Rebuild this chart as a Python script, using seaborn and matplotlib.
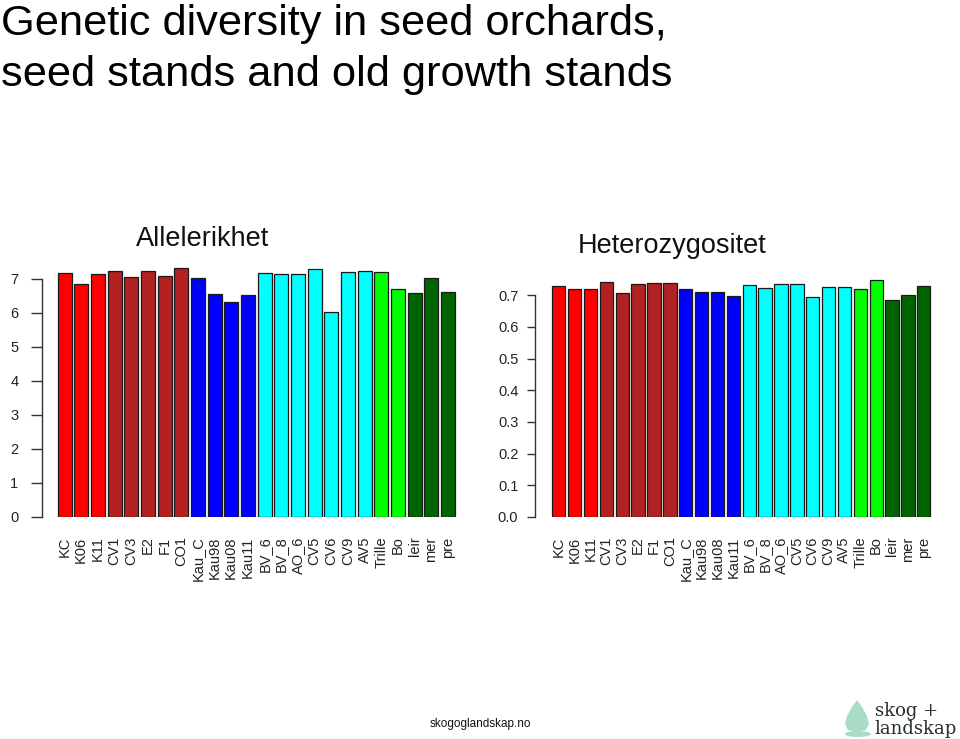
import matplotlib
matplotlib.use("Agg")
import matplotlib.pyplot as plt
import seaborn as sns
from matplotlib.patches import Polygon, Ellipse

# ---------------- data ----------------
populations = ["KC", "K06", "K11", "CV1", "CV3", "E2", "F1", "CO1",
               "Kau_C", "Kau98", "Kau08", "Kau11",
               "BV_6", "BV_8", "AO_6", "CV5", "CV6", "CV9", "AV5",
               "Trille", "Bo", "leir", "mer", "pre"]
allelic_richness = [7.18, 6.85, 7.15, 7.25, 7.06, 7.25, 7.10, 7.33,
                    7.03, 6.57, 6.32, 6.54,
                    7.18, 7.15, 7.15, 7.30, 6.04, 7.22, 7.25,
                    7.22, 6.70, 6.60, 7.03, 6.63]
heterozygosity = [0.728, 0.719, 0.719, 0.743, 0.707, 0.735, 0.738, 0.738,
                  0.719, 0.711, 0.711, 0.698,
                  0.732, 0.722, 0.735, 0.735, 0.696, 0.725, 0.725,
                  0.719, 0.749, 0.686, 0.702, 0.728]
bar_colors = (["#FF0000"] * 3 + ["#B22222"] * 5 + ["#0000FF"] * 4 +
              ["#00FFFF"] * 7 + ["#00FF00"] * 2 + ["#006400"] * 3)
left_yticks = [0, 1, 2, 3, 4, 5, 6, 7]
right_yticks = [0.0, 0.1, 0.2, 0.3, 0.4, 0.5, 0.6, 0.7]
title_lines = ["Genetic diversity in seed orchards,",
               "seed stands and old growth stands"]
panel_titles = ["Allelerikhet", "Heterozygositet"]

# ---------------- style ----------------
sns.set_style("white")
plt.rcParams["font.family"] = ["Liberation Sans", "DejaVu Sans"]

W, H = 960, 739
fig = plt.figure(figsize=(W / 100, H / 100), dpi=100)


def px_axes(left, bottom_px, width, height):
    return fig.add_axes([left / W, (H - bottom_px) / H, width / W, height / H])


def draw_panel(ax, values, yticks, ylim, xlim, ticklen, labelpad, fmt):
    sns.barplot(x=populations, y=values, hue=populations,
                palette=bar_colors, legend=False, width=0.84,
                edgecolor="#1a1a1a", linewidth=0.9, saturation=1,
                ax=ax)
    ax.set_xlim(*xlim)
    ax.set_ylim(*ylim)
    ax.set_xlabel("")
    ax.set_ylabel("")
    for s in ["top", "right", "bottom"]:
        ax.spines[s].set_visible(False)
    ax.spines["left"].set_bounds(yticks[0], yticks[-1])
    ax.spines["left"].set_color("#333333")
    ax.spines["left"].set_linewidth(1.0)
    ax.set_yticks(yticks)
    ax.set_yticklabels([fmt(v) for v in yticks])
    ax.tick_params(axis="y", which="major", direction="out", length=ticklen,
                   width=1.0, color="#333333", pad=labelpad,
                   labelsize=10.5, labelcolor="#222222", left=True)
    ax.tick_params(axis="x", length=0, pad=14, labelsize=10.5,
                   labelcolor="#222222", labelrotation=90)
    for lab in ax.get_xticklabels():
        lab.set_verticalalignment("top")
    ax.patch.set_alpha(0)


# left panel: axis line at x=42 px, zero at y=517 px
unit_l = 16.67
xlim_l = (-1.35, 24.0)
ax1 = px_axes(42, 517, (xlim_l[1] - xlim_l[0]) * unit_l, 7.5 * 34.0)
draw_panel(ax1, allelic_richness, left_yticks, (0, 7.5), xlim_l,
           8, 9, lambda v: f"{v:d}")

# right panel: axis line at x=535 px, zero at y=517 px
unit_r = 15.87
xlim_r = (-1.5, 24.0)
ax2 = px_axes(535, 517, (xlim_r[1] - xlim_r[0]) * unit_r, 0.78 * 316.7)
draw_panel(ax2, heterozygosity, right_yticks, (0, 0.78), xlim_r,
           6, 6, lambda v: f"{v:.1f}")

# panel titles
fig.text(203 / W, 1 - 246 / H, panel_titles[0], ha="center", va="baseline",
         fontsize=19.5, color="#111111")
fig.text(672 / W, 1 - 253 / H, panel_titles[1], ha="center", va="baseline",
         fontsize=19.5, color="#111111")

# main title
for line, base in zip(title_lines, [35, 86]):
    fig.text(1 / W, 1 - base / H, line, ha="left", va="baseline",
             fontsize=31.2, color="#000000")

# footer
fig.text(480 / W, 1 - 727 / H, "skogoglandskap.no", ha="center",
         va="baseline", fontsize=8.5, color="#111111")

# logo: leaf/tree mark + serif wordmark
leaf_col = "#a9dcc6"
leaf = Polygon([[857 / W, 1 - 700 / H], [862 / W, 1 - 707 / H],
                [867 / W, 1 - 716 / H], [869 / W, 1 - 724 / H],
                [866 / W, 1 - 730 / H], [857 / W, 1 - 732 / H],
                [848 / W, 1 - 730 / H], [845 / W, 1 - 724 / H],
                [847 / W, 1 - 716 / H], [852 / W, 1 - 707 / H]],
               closed=True, transform=fig.transFigure, facecolor=leaf_col,
               edgecolor="none")
fig.patches.append(leaf)
base = Ellipse((858 / W, 1 - 734 / H), 26 / W, 6 / H,
               transform=fig.transFigure, facecolor=leaf_col, edgecolor="none")
fig.patches.append(base)
fig.text(875 / W, 1 - 716 / H, "skog +", ha="left", va="baseline",
         fontsize=13, color="#26302c", family=["DejaVu Serif"])
fig.text(874 / W, 1 - 734 / H, "landskap", ha="left", va="baseline",
         fontsize=13, color="#26302c", family=["DejaVu Serif"])

fig.savefig("out.png", dpi=100)
